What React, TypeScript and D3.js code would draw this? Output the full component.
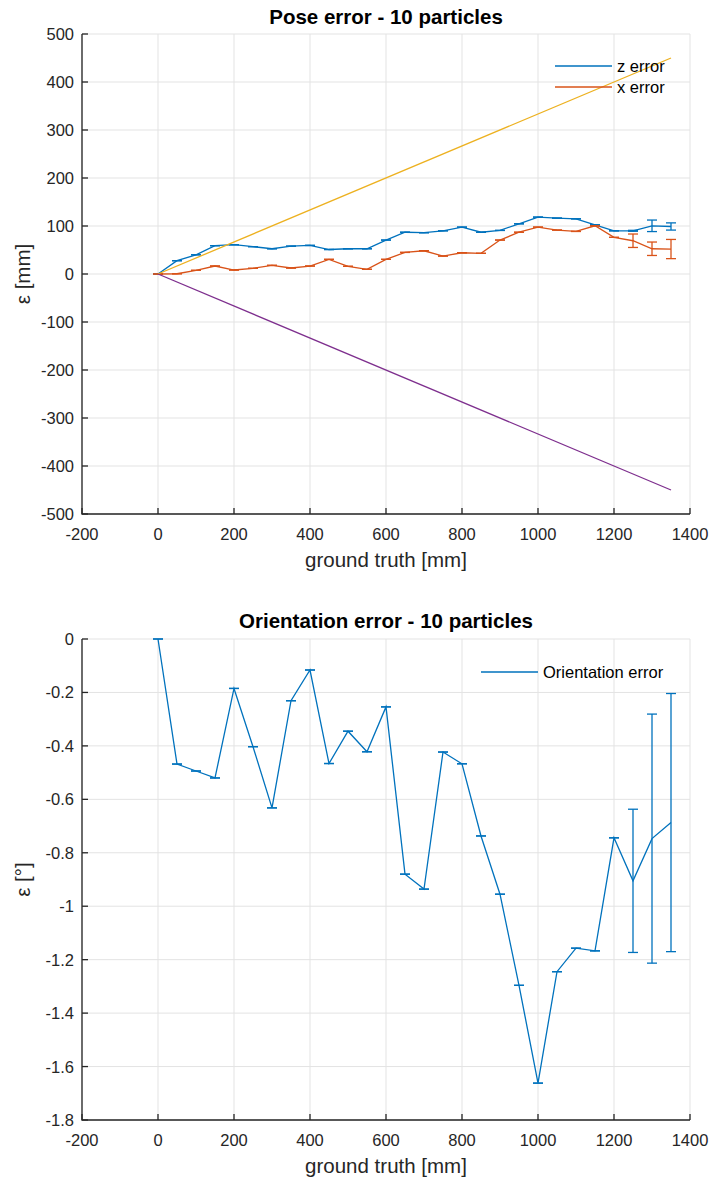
import * as d3 from "d3";

// ground truth positions [mm]
const truth = [0, 50, 100, 150, 200, 250, 300, 350, 400, 450, 500, 550, 600, 650, 700, 750, 800, 850, 900, 950, 1000, 1050, 1100, 1150, 1200, 1250, 1300, 1350];

// pose error [mm]
const zError = [0, 27.7, 40, 59, 61, 57, 52.6, 58, 59.6, 51, 52.6, 52.6, 70.7, 87, 86, 90, 97.7, 87, 90.8, 104.6, 118.5, 116.4, 115, 102.5, 90, 90, 100.4, 99];
const zStd = [0, 0, 0, 0, 0, 0, 0, 0, 0, 0, 0, 0, 0, 0, 0, 0, 0, 0, 0, 0, 0, 0, 0, 0, 0, 1, 12, 7.5];
const xError = [0, 0.5, 7.6, 16.6, 8.3, 11.8, 18, 12.5, 16.6, 30.5, 16, 9.7, 30.5, 45, 48.4, 37.4, 44.3, 43, 70.7, 87, 97.7, 91.5, 88.7, 100.4, 76.3, 69.3, 52.6, 52];
const xStd = [0, 0, 0, 0, 0, 0, 0, 0, 0, 0, 0, 0, 0, 0, 0, 0, 0, 0, 0, 0, 0, 0, 0, 0, 0, 14, 14, 20];

// bounds (x/3)
const boundX = [0, 1350];
const upperBound = [0, 450];
const lowerBound = [0, -450];

// orientation error [deg]
const orientError = [0, -0.468, -0.494, -0.52, -0.185, -0.403, -0.632, -0.231, -0.116, -0.466, -0.345, -0.422, -0.254, -0.88, -0.936, -0.423, -0.467, -0.737, -0.955, -1.296, -1.662, -1.245, -1.157, -1.167, -0.744, -0.905, -0.747, -0.687];
const orientStd = [0, 0, 0, 0, 0, 0, 0, 0, 0, 0, 0, 0, 0, 0, 0, 0, 0, 0, 0, 0, 0, 0, 0, 0, 0, 0.268, 0.466, 0.483];

const xTicks = [-200, 0, 200, 400, 600, 800, 1000, 1200, 1400];
const poseTicks = [-500, -400, -300, -200, -100, 0, 100, 200, 300, 400, 500];
const orientTicks = [-1.8, -1.6, -1.4, -1.2, -1, -0.8, -0.6, -0.4, -0.2, 0];

const BLUE = "#0072BD";
const ORANGE = "#D95319";
const YELLOW = "#EDB120";
const PURPLE = "#7E2F8E";
const AXIS = "#262626";
const GRID = "#e3e3e3";
const FONT = "'Liberation Sans', Arial, Helvetica, sans-serif";

const left = 82, right = 690;

function ErrorSeries({xs, ys, err, color, x, y}) {
  const line = d3.line<number>().x((_, i) => x(xs[i])).y(d => y(d));
  return (
    <g stroke={color} strokeWidth={1.3} fill="none">
      <path d={line(ys) || ""} />
      {ys.map((v, i) => {
        const cx = x(xs[i]);
        const y1 = y(v + err[i]), y2 = y(v - err[i]);
        return (
          <g key={i}>
            <line x1={cx} x2={cx} y1={y1} y2={y2} />
            <line x1={cx - 5} x2={cx + 5} y1={y1} y2={y1} />
            <line x1={cx - 5} x2={cx + 5} y1={y2} y2={y2} />
          </g>
        );
      })}
    </g>
  );
}

function Frame({x, y, yTicks, fmt, title, titleY, yLabel, top, bottom}) {
  return (
    <g fontFamily={FONT}>
      {xTicks.map(t => (
        <line key={"gx" + t} x1={x(t)} x2={x(t)} y1={top} y2={bottom} stroke={GRID} strokeWidth={1} />
      ))}
      {yTicks.map(t => (
        <line key={"gy" + t} x1={left} x2={right} y1={y(t)} y2={y(t)} stroke={GRID} strokeWidth={1} />
      ))}
      <text x={(left + right) / 2} y={titleY} textAnchor="middle" fontSize={20.5} fontWeight="bold" fill="#000">{title}</text>
      <text x={(left + right) / 2} y={bottom + 53} textAnchor="middle" fontSize={20.5} fill={AXIS}>ground truth [mm]</text>
      <text transform={`translate(30,${(top + bottom) / 2}) rotate(-90)`} textAnchor="middle" fontSize={20.5} fill={AXIS}>{yLabel}</text>
    </g>
  );
}

function Axes({x, y, yTicks, fmt, top, bottom}) {
  return (
    <g fontFamily={FONT} fontSize={16.5} fill={AXIS}>
      <path d={`M${left},${top}V${bottom}H${right}`} stroke={AXIS} strokeWidth={1.3} fill="none" />
      {xTicks.map(t => (
        <g key={"tx" + t}>
          <line x1={x(t)} x2={x(t)} y1={bottom} y2={bottom - 6} stroke={AXIS} strokeWidth={1.3} />
          <text x={x(t)} y={bottom + 26} textAnchor="middle">{t}</text>
        </g>
      ))}
      {yTicks.map(t => (
        <g key={"ty" + t}>
          <line x1={left} x2={left + 6} y1={y(t)} y2={y(t)} stroke={AXIS} strokeWidth={1.3} />
          <text x={left - 8} y={y(t) + 6} textAnchor="end">{fmt(t)}</text>
        </g>
      ))}
    </g>
  );
}

export default function App() {
  const x = d3.scaleLinear().domain([-200, 1400]).range([left, right]);

  const top1 = 34, bottom1 = 514;
  const y1 = d3.scaleLinear().domain([-500, 500]).range([bottom1, top1]);

  const top2 = 639, bottom2 = 1120;
  const y2 = d3.scaleLinear().domain([-1.8, 0]).range([bottom2, top2]);

  const boundLine = d3.line<number>().x((_, i) => x(boundX[i])).y(d => y1(d));

  return (
    <svg width={712} height={1180} style={{position: "absolute", left: 0, top: 0, background: "#fff"}}>
      <rect width={712} height={1180} fill="#fff" />

      {/* pose error */}
      <Frame x={x} y={y1} yTicks={poseTicks} fmt={d => d} title="Pose error - 10 particles" titleY={24} yLabel="ε [mm]" top={top1} bottom={bottom1} />
      <ErrorSeries xs={truth} ys={zError} err={zStd} color={BLUE} x={x} y={y1} />
      <ErrorSeries xs={truth} ys={xError} err={xStd} color={ORANGE} x={x} y={y1} />
      <path d={boundLine(upperBound) || ""} stroke={YELLOW} strokeWidth={1.3} fill="none" />
      <path d={boundLine(lowerBound) || ""} stroke={PURPLE} strokeWidth={1.3} fill="none" />
      <Axes x={x} y={y1} yTicks={poseTicks} fmt={d => d} top={top1} bottom={bottom1} />
      <g fontFamily={FONT} fontSize={16.5} fill="#000">
        <line x1={555} x2={612} y1={66} y2={66} stroke={BLUE} strokeWidth={1.3} />
        <text x={617} y={72}>z error</text>
        <line x1={555} x2={612} y1={87} y2={87} stroke={ORANGE} strokeWidth={1.3} />
        <text x={617} y={93}>x error</text>
      </g>

      {/* orientation error */}
      <Frame x={x} y={y2} yTicks={orientTicks} fmt={d => d} title="Orientation error - 10 particles" titleY={628} yLabel="ε [°]" top={top2} bottom={bottom2} />
      <ErrorSeries xs={truth} ys={orientError} err={orientStd} color={BLUE} x={x} y={y2} />
      <Axes x={x} y={y2} yTicks={orientTicks} fmt={d => String(d)} top={top2} bottom={bottom2} />
      <g fontFamily={FONT} fontSize={16.5} fill="#000">
        <line x1={481} x2={538} y1={672} y2={672} stroke={BLUE} strokeWidth={1.3} />
        <text x={543} y={678}>Orientation error</text>
      </g>
    </svg>
  );
}
